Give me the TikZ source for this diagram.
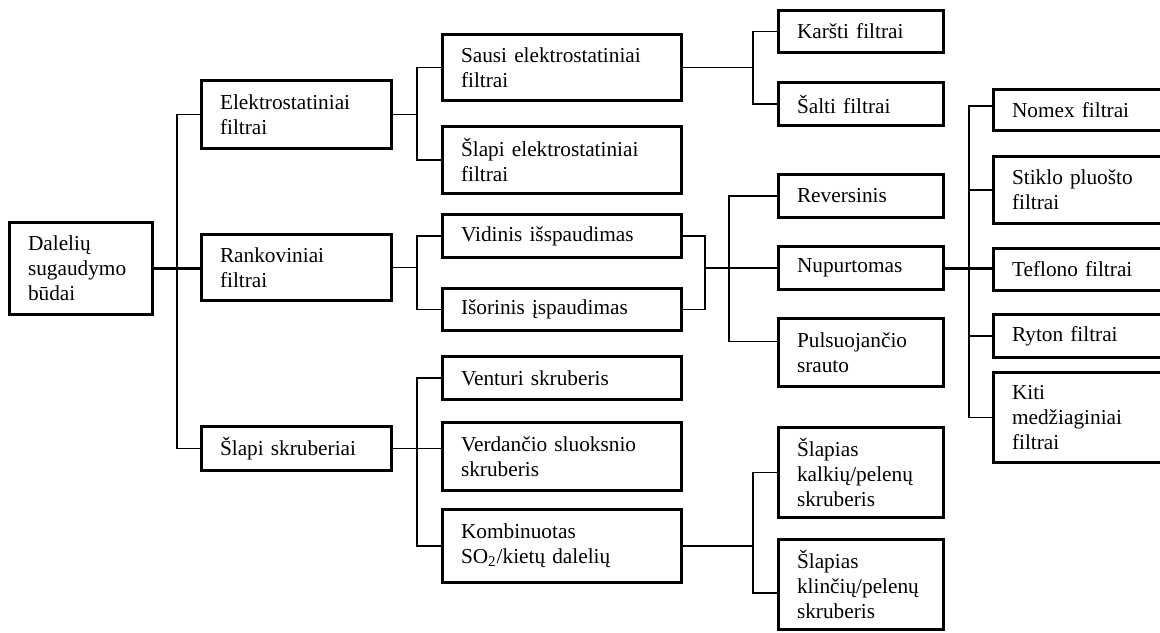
\documentclass[tikz,border=0pt]{standalone}
\usepackage{fontspec}
\setmainfont{Liberation Serif}
\begin{document}
\begin{tikzpicture}[x=0.5pt,y=-0.5pt,
  box/.style n args={3}{draw, line width=1.6pt, rectangle, minimum width=#1pt, minimum height=#2pt,
    text width=#3pt, align=left, inner xsep=9.25pt, inner ysep=0pt,
    font=\fontsize{10.65pt}{12.4pt}\selectfont},
  c0/.style={box={71.5}{#1}{53}},
  c1/.style={box={95}{#1}{76.5}},
  c2/.style={box={119.5}{#1}{101}},
  c3/.style={box={82.5}{#1}{64}},
  c4/.style={box={87.5}{#1}{69}},
  thinline/.style={line width=0.8pt},
  thickline/.style={line width=1.5pt}]
\useasboundingbox (0,0) rectangle (1160,632);
\clip (0,0) rectangle (1160,632);
% nodes
\node[c0=46] (root) at (81,268.5) {Dalelių\\sugaudymo\\būdai};
\node[c1=34] (elek) at (296.5,114.5) {Elektrostatiniai\\filtrai};
\node[c1=33] (rank) at (296.5,267.5) {Rankoviniai\\filtrai};
\node[c1=22] (slsk) at (296.5,448.5) {Šlapi skruberiai};
\node[c2=33] (sausi) at (562,67.5) {Sausi elektrostatiniai\\filtrai};
\node[c2=33.5] (slel) at (562,160) {Šlapi elektrostatiniai\\filtrai};
\node[c2=21.5] (vid) at (562,236) {Vidinis išspaudimas};
\node[c2=21] (isor) at (562,309.5) {Išorinis įspaudimas};
\node[c2=21.5] (vent) at (562,378) {Venturi skruberis};
\node[c2=34] (verd) at (562,456.5) {Verdančio sluoksnio\\skruberis};
\node[c2=36.5] (komb) at (562,546) {Kombinuotas\\SO\textsubscript{2}/kietų dalelių};
\node[c3=21] (karst) at (861,31.5) {Karšti filtrai};
\node[c3=21.5] (salt) at (861,104) {Šalti filtrai};
\node[c3=21.5] (rev) at (861,196) {Reversinis};
\node[c3=21.5] (nup) at (861,268) {Nupurtomas};
\node[c3=34] (puls) at (861,352.5) {Pulsuojančio\\srauto};
\node[c3=45] (kalk) at (861,472.5) {Šlapias\\kalkių/pelenų\\skruberis};
\node[c3=45] (klin) at (861,584.5) {Šlapias\\klinčių/pelenų\\skruberis};
\node[c4=20.5] (nomex) at (1081,110) {Nomex filtrai};
\node[c4=33.5] (stik) at (1081,190) {Stiklo pluošto\\filtrai};
\node[c4=21] (tefl) at (1081,269.5) {Teflono filtrai};
\node[c4=21.5] (ryton) at (1081,336) {Ryton filtrai};
\node[c4=45] (kiti) at (1081,417.5) {Kiti\\medžiaginiai\\filtrai};
% bus coordinates
\coordinate (b1) at (177,0);
\coordinate (b2) at (417,0);
\coordinate (b3) at (753,0);
\coordinate (b4) at (705,0);
\coordinate (b5) at (729,0);
\coordinate (b6) at (969,0);
\coordinate (klinc) at ([yshift=-4.25pt]klin.west);
\coordinate (pulsc) at ([yshift=5.5pt]puls.west);
\coordinate (nomexc) at ([yshift=2pt]nomex.west);
% level 1
\draw[thickline] (root.east) -- (root.east -| rank.west);
\draw[thinline] (elek.west) -| (b1 |- slsk.west) -- (slsk.west);
% elektrostatiniai
\draw[thinline] (elek.east) -- (elek.east -| b2);
\draw[thinline] (sausi.west) -| (b2 |- slel.west) -- (slel.west);
\draw[thinline] (sausi.east) -- (sausi.east -| b3);
\draw[thinline] (karst.west) -| (b3 |- salt.west) -- (salt.west);
% rankoviniai
\draw[thinline] (rank.east) -- (rank.east -| b2);
\draw[thinline] (vid.west) -| (b2 |- isor.west) -- (isor.west);
\draw[thinline] (vid.east) -| (b4 |- isor.east) -- (isor.east);
\draw[thinline] (b4 |- nup.west) -- (nup.west);
\draw[thinline] (rev.west) -| (b5 |- pulsc) -- (pulsc);
\draw[thickline] (nup.east) -- (nup.east -| tefl.west);
\draw[thinline] (nomexc) -| (b6 |- kiti.west) -- (kiti.west);
\draw[thinline] (b6 |- stik.west) -- (stik.west);
\draw[thinline] (b6 |- ryton.west) -- (ryton.west);
% skruberiai
\draw[thinline] (slsk.east) -- (slsk.east -| verd.west);
\draw[thinline] (vent.west) -| (b2 |- komb.west) -- (komb.west);
\draw[thinline] (komb.east) -- (komb.east -| b3);
\draw[thinline] (kalk.west) -| (b3 |- klinc) -- (klinc);
\end{tikzpicture}
\end{document}
